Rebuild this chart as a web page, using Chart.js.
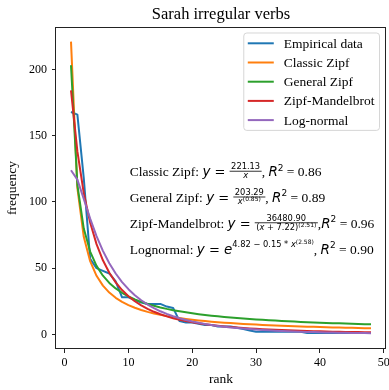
<!DOCTYPE html>
<html><head><meta charset="utf-8">
<script src="https://cdn.jsdelivr.net/npm/chart.js@4.4.1/dist/chart.umd.min.js"></script>
<style>html,body{margin:0;padding:0;background:#fff;}#wrap{width:389px;height:390px;}</style>
</head><body><div id="wrap"><canvas id="c" width="389" height="390"></canvas></div>
<script>
const ranks = [1,2,3,4,5,6,7,8,9,10,11,12,13,14,15,16,17,18,19,20,21,22,23,24,25,26,27,28,29,30,31,32,33,34,35,36,37,38,39,40,41,42,43,44,45,46,47,48];
const empirical = [168,166,118,57,50,48,46,40,28,28,26,24,23,23,23,21,20,10,9,9,8,7,7,6,6,6,5,4,3,2,2,2,2,2,2,2,2,1,1,1,1,1,1,1,1,1,1,1];
const classicZipf = [221.13,110.57,73.71,55.28,44.23,36.86,31.59,27.64,24.57,22.11,20.10,18.43,17.01,15.80,14.74,13.82,13.01,12.29,11.64,11.06,10.53,10.05,9.61,9.21,8.85,8.50,8.19,7.90,7.63,7.37,7.13,6.91,6.70,6.50,6.32,6.14,5.98,5.82,5.67,5.53,5.39,5.26,5.14,5.03,4.91,4.81,4.70,4.61];
const generalZipf = [203.29,112.8,79.9,62.57,51.76,44.33,38.89,34.72,31.41,28.72,26.48,24.59,22.98,21.58,20.35,19.26,18.29,17.42,16.64,15.93,15.28,14.69,14.15,13.64,13.17,12.74,12.34,11.97,11.62,11.29,10.98,10.69,10.41,10.15,9.90,9.67,9.44,9.23,9.03,8.84,8.65,8.48,8.31,8.15,8.00,7.85,7.71,7.57];
const zipfMandelbrot = [184.4,138.2,106.7,84.46,68.16,55.94,46.59,39.28,33.49,28.82,25.01,21.88,19.26,17.06,15.20,13.60,12.24,11.06,10.03,9.13,8.34,7.64,7.02,6.47,5.98,5.54,5.14,4.78,4.46,4.16,3.89,3.65,3.43,3.22,3.03,2.86,2.70,2.55,2.42,2.29,2.17,2.06,1.96,1.87,1.78,1.70,1.62,1.55];
const logNormal = [123.96,116.9,102.4,87.50,74.28,63.09,53.76,45.98,39.52,34.13,29.59,25.78,22.55,19.81,17.44,15.43,13.69,12.19,10.88,9.74,8.74,7.86,7.09,6.40,5.80,5.27,4.79,4.36,3.98,3.64,3.33,3.05,2.80,2.57,2.37,2.18,2.02,1.86,1.72,1.60,1.48,1.37,1.28,1.19,1.11,1.03,0.96,0.90];
const xTicks = [0,10,20,30,40,50];
const yTicks = [0,50,100,150,200];
const seriesLabels = ['Empirical data','Classic Zipf','General Zipf','Zipf-Mandelbrot','Log-normal'];
const seriesColors = ['#1f77b4','#ff7f0e','#2ca02c','#d62728','#9467bd'];
const seriesValues = [empirical, classicZipf, generalZipf, zipfMandelbrot, logNormal];

const SERIF = '"Liberation Serif", serif';
const TXT = '13.5px ' + SERIF;
const MI = 'italic 13.5px "DejaVu Sans"';
const MR = '13px "DejaVu Sans"';
const SUP = '9px "DejaVu Sans"';
const FR = '8.3px "DejaVu Sans"';
const FRI = 'italic 8.3px "DejaVu Sans"';
const FRS = '6px "DejaVu Sans"';

const R2 = [{t:'R',f:MI},{t:'2',f:SUP,dy:-5.5}];
const annotations = [
  {x:10.2, y:119.5, runs:[{t:'Classic Zipf: ',f:TXT},{t:'y',f:MI},{t:' = ',f:MR},
    {frac:true,num:[{t:'221.13',f:FR}],den:[{t:'x',f:FRI}]},{t:', ',f:TXT},...R2,{t:' = 0.86',f:TXT}]},
  {x:10.2, y:100, runs:[{t:'General Zipf: ',f:TXT},{t:'y',f:MI},{t:' = ',f:MR},
    {frac:true,num:[{t:'203.29',f:FR}],den:[{t:'x',f:FRI},{t:'(0.85)',f:FRS,dy:-3}]},{t:', ',f:TXT},...R2,{t:' = 0.89',f:TXT}]},
  {x:10.2, y:80.5, runs:[{t:'Zipf-Mandelbrot: ',f:TXT},{t:'y',f:MI},{t:' = ',f:MR},
    {frac:true,num:[{t:'36480.90',f:FR}],den:[{t:'(',f:FR},{t:'x',f:FRI},{t:' + 7.22)',f:FR},{t:'(2.51)',f:FRS,dy:-3}]},{t:',',f:TXT},...R2,{t:' = 0.96',f:TXT}]},
  {x:10.2, y:61, runs:[{t:'Lognormal: ',f:TXT},{t:'y',f:MI},{t:' = ',f:MR},{t:'e',f:MI},
    {t:'4.82 \u2212 0.15 * ',f:FR,dy:-6.5},{t:'x',f:FRI,dy:-6.5},{t:'(2.58)',f:FRS,dy:-9.5},{t:', ',f:TXT},...R2,{t:' = 0.90',f:TXT}]}
];

function runsWidth(ctx, runs){ let w=0; for(const r of runs) w += runWidth(ctx,r); return w; }
function runWidth(ctx, r){
  if (r.frac) return Math.max(runsWidth(ctx,r.num), runsWidth(ctx,r.den)) + 3;
  ctx.font = r.f; return ctx.measureText(r.t).width;
}
function drawRuns(ctx, runs, x, y){
  for (const r of runs){
    if (r.frac){
      const wn = runsWidth(ctx,r.num), wd = runsWidth(ctx,r.den);
      const w = Math.max(wn,wd) + 3;
      const bar = y - 5;
      ctx.fillRect(x, bar - 0.4, w, 0.8);
      drawRuns(ctx, r.num, x + (w-wn)/2, bar - 2);
      drawRuns(ctx, r.den, x + (w-wd)/2, bar + 7);
      x += w;
    } else {
      ctx.font = r.f;
      ctx.fillText(r.t, x, y + (r.dy||0));
      x += ctx.measureText(r.t).width;
    }
  }
}

const decor = {
  id: 'decor',
  afterDatasetsDraw(chart){
    const {ctx, chartArea:a, scales} = chart;
    ctx.save();
    ctx.strokeStyle = '#222'; ctx.lineWidth = 1;
    const l = Math.round(a.left)-0.5, t = Math.round(a.top)+0.5, r = Math.round(a.right)-0.5, b = Math.round(a.bottom)-0.5;
    ctx.strokeRect(l, t, r-l, b-t);
    ctx.fillStyle = '#000'; ctx.textBaseline = 'alphabetic'; ctx.textAlign = 'left';
    for (const an of annotations){
      drawRuns(ctx, an.runs, scales.x.getPixelForValue(an.x), scales.y.getPixelForValue(an.y));
    }
    ctx.restore();
  },
  afterDraw(chart){
    const {ctx, chartArea:a} = chart;
    ctx.save();
    const font = '13.5px ' + SERIF;
    ctx.font = font;
    const maxW = Math.max(...seriesLabels.map(s => ctx.measureText(s).width));
    const handle = 26, padL = 4, gap = 10, padR = 5, rowH = 19.2, padV = 10.3;
    const right = a.right - 6.5, top = a.top + 6;
    const w = padL + handle + gap + maxW + padR;
    const h = padV*2 + rowH*(seriesLabels.length-1);
    const left = right - w;
    ctx.beginPath();
    ctx.roundRect(left, top, w, h, 3);
    ctx.fillStyle = 'rgba(255,255,255,0.8)'; ctx.fill();
    ctx.strokeStyle = 'rgba(204,204,204,0.8)'; ctx.lineWidth = 1; ctx.stroke();
    ctx.textBaseline = 'middle'; ctx.textAlign = 'left';
    seriesLabels.forEach((s,i) => {
      const y = top + padV + rowH*i;
      ctx.strokeStyle = seriesColors[i]; ctx.lineWidth = 2;
      ctx.beginPath(); ctx.moveTo(left+padL, y); ctx.lineTo(left+padL+handle, y); ctx.stroke();
      ctx.fillStyle = '#000'; ctx.font = font;
      ctx.fillText(s, left+padL+handle+gap, y+1);
    });
    ctx.restore();
  }
};

Chart.defaults.font.family = SERIF;
Chart.defaults.color = '#000';

new Chart(document.getElementById('c'), {
  type: 'line',
  data: {
    datasets: seriesValues.map((vals, i) => ({
      label: seriesLabels[i],
      data: ranks.map((r, j) => ({x: r, y: vals[j]})),
      borderColor: seriesColors[i],
      backgroundColor: seriesColors[i],
      borderWidth: 2,
      pointRadius: 0,
      fill: false,
      tension: 0,
      borderJoinStyle: 'round',
      order: seriesValues.length - i
    }))
  },
  options: {
    responsive: false,
    animation: false,
    devicePixelRatio: 1,
    layout: {padding: {left: 0, right: 3, top: 0, bottom: 0}},
    plugins: {
      legend: {display: false},
      tooltip: {enabled: false},
      title: {display: true, text: 'Sarah irregular verbs', fullSize: false,
        font: {family: SERIF, size: 16.5, weight: 'normal'}, color: '#000',
        padding: {top: 4.3, bottom: 2.9}}
    },
    scales: {
      x: {
        type: 'linear', min: -1.35, max: 50.35,
        afterBuildTicks: s => { s.ticks = xTicks.map(v => ({value: v})); },
        afterFit: s => { s.height = 41; s.paddingLeft = 0; s.paddingRight = 0; },
        ticks: {font: {size: 12}, color: '#000', padding: 3, maxRotation: 0, autoSkip: false, callback: v => String(v)},
        grid: {drawOnChartArea: false, drawTicks: true, tickLength: 4, tickColor: '#222', tickWidth: 1},
        border: {display: false},
        title: {display: true, text: 'rank', font: {size: 13.5}, color: '#000', padding: {top: 0, bottom: 2}}
      },
      y: {
        type: 'linear', min: -11.05, max: 232.2,
        afterBuildTicks: s => { s.ticks = yTicks.map(v => ({value: v})); },
        afterFit: s => { s.width = 56; s.paddingTop = 0; s.paddingBottom = 0; },
        ticks: {font: {size: 12}, color: '#000', padding: 5, autoSkip: false, callback: v => String(v)},
        grid: {drawOnChartArea: false, drawTicks: true, tickLength: 4, tickColor: '#222', tickWidth: 1},
        border: {display: false},
        title: {display: true, text: 'frequency', font: {size: 13.5}, color: '#000', padding: {top: 4, bottom: 0}}
      }
    }
  },
  plugins: [decor]
});
</script></body></html>
